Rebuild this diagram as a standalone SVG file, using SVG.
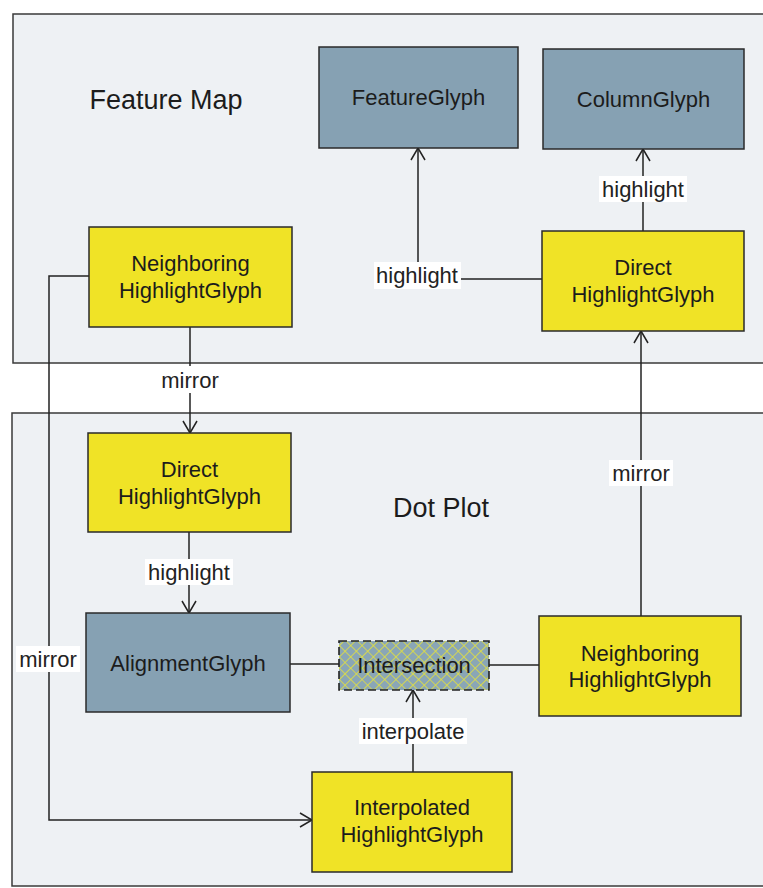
<svg xmlns="http://www.w3.org/2000/svg" width="763" height="888" viewBox="0 0 763 888">
<style>
.panel{fill:#eef1f4;stroke:#3a3a3a;stroke-width:1.5}
.blue{fill:#86a1b3;stroke:#2a2a2a;stroke-width:1.5}
.yellow{fill:#f0e326;stroke:#2a2a2a;stroke-width:1.5}
.t{font-family:"Liberation Sans",Arial,sans-serif;font-size:22px;fill:#1c1c1c;text-anchor:middle;dominant-baseline:central}
.title{font-size:27px}
.lbl{font-family:"Liberation Sans",Arial,sans-serif;font-size:22px;fill:#222;text-anchor:middle;dominant-baseline:central}
.lbg{fill:#ffffff}
.conn{fill:none;stroke:#222;stroke-width:1.5}
</style>
<defs>
<marker id="arr" markerUnits="userSpaceOnUse" markerWidth="16" markerHeight="16" refX="13" refY="8" orient="auto" viewBox="0 0 16 16">
<path d="M1,1 L13,8 L1,15" fill="none" stroke="#222" stroke-width="1.5"/>
</marker>
<pattern id="hatch" patternUnits="userSpaceOnUse" width="8" height="8" patternTransform="rotate(45)">
<rect width="8" height="8" fill="#8aa6b6"/>
<path d="M0,0 H8 M0,0 V8" stroke="#e6e23a" stroke-width="1.6"/>
</pattern>
</defs>
<rect width="763" height="888" fill="#ffffff"/>
<g id="panel-feature-map">
<rect class="panel" x="13" y="14" width="762" height="349"/>
<text class="t title" x="166" y="100">Feature Map</text>
</g>
<g id="panel-dot-plot">
<rect class="panel" x="12" y="413" width="762" height="473"/>
<text class="t title" x="441" y="508">Dot Plot</text>
</g>
<g id="connectors">
<polyline class="conn" points="542,279 418,279 418,148" marker-end="url(#arr)"/>
<rect class="lbg" x="374" y="262" width="87" height="27"/>
<text class="lbl" x="417" y="275">highlight</text>
<line class="conn" x1="643" y1="231" x2="643" y2="149" marker-end="url(#arr)"/>
<rect class="lbg" x="599" y="176" width="88" height="26"/>
<text class="lbl" x="643" y="189">highlight</text>
<line class="conn" x1="190" y1="327" x2="190" y2="433" marker-end="url(#arr)"/>
<rect class="lbg" x="158" y="366" width="64" height="27"/>
<text class="lbl" x="190" y="380">mirror</text>
<line class="conn" x1="641" y1="616" x2="641" y2="331" marker-end="url(#arr)"/>
<rect class="lbg" x="609" y="460" width="64" height="26"/>
<text class="lbl" x="641" y="473">mirror</text>
<polyline class="conn" points="89,276 49,276 49,820 312,820" marker-end="url(#arr)"/>
<rect class="lbg" x="16" y="646" width="64" height="26"/>
<text class="lbl" x="48" y="659">mirror</text>
<line class="conn" x1="189" y1="532" x2="189" y2="613" marker-end="url(#arr)"/>
<rect class="lbg" x="145" y="559" width="88" height="26"/>
<text class="lbl" x="189" y="572">highlight</text>
<line class="conn" x1="290" y1="664" x2="339" y2="664"/>
<line class="conn" x1="489" y1="665" x2="539" y2="665"/>
<line class="conn" x1="413" y1="772" x2="413" y2="690" marker-end="url(#arr)"/>
<rect class="lbg" x="359" y="718" width="108" height="26"/>
<text class="lbl" x="413" y="731">interpolate</text>
</g>
<g id="fm-feature-glyph">
<rect class="blue" x="319" y="47" width="199" height="101"/>
<text class="t" x="418.5" y="97">FeatureGlyph</text>
</g>
<g id="fm-column-glyph">
<rect class="blue" x="543" y="49" width="201" height="100"/>
<text class="t" x="643.5" y="99">ColumnGlyph</text>
</g>
<g id="fm-neighboring">
<rect class="yellow" x="89" y="227" width="203" height="100"/>
<text class="t" x="190.5" y="263">Neighboring</text>
<text class="t" x="190.5" y="290">HighlightGlyph</text>
</g>
<g id="fm-direct">
<rect class="yellow" x="542" y="231" width="202" height="100"/>
<text class="t" x="643" y="267">Direct</text>
<text class="t" x="643" y="294">HighlightGlyph</text>
</g>
<g id="dp-direct">
<rect class="yellow" x="88" y="433" width="203" height="99"/>
<text class="t" x="189.5" y="469">Direct</text>
<text class="t" x="189.5" y="496">HighlightGlyph</text>
</g>
<g id="dp-alignment">
<rect class="blue" x="86" y="613" width="204" height="99"/>
<text class="t" x="188" y="663">AlignmentGlyph</text>
</g>
<g id="dp-intersection">
<rect x="339" y="641" width="150" height="49" fill="url(#hatch)" stroke="#222" stroke-width="1.6" stroke-dasharray="8,4"/>
<text class="t" x="414" y="665">Intersection</text>
</g>
<g id="dp-neighboring">
<rect class="yellow" x="539" y="616" width="202" height="100"/>
<text class="t" x="640" y="653">Neighboring</text>
<text class="t" x="640" y="679">HighlightGlyph</text>
</g>
<g id="dp-interpolated">
<rect class="yellow" x="312" y="772" width="200" height="100"/>
<text class="t" x="412" y="807">Interpolated</text>
<text class="t" x="412" y="834">HighlightGlyph</text>
</g>
</svg>
